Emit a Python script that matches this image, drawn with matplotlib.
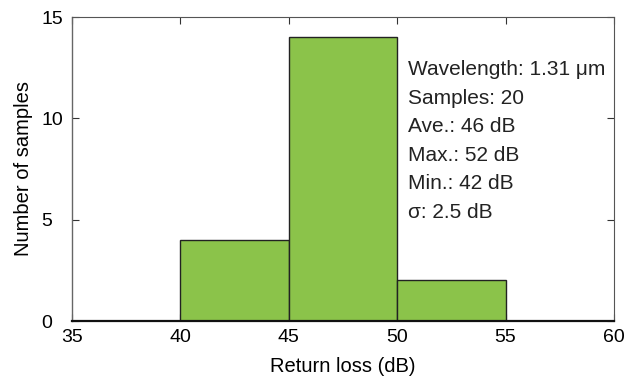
import matplotlib
matplotlib.use("Agg")
import matplotlib.pyplot as plt

# histogram of return loss measurements
bin_edges = [40, 45, 50, 55]
counts = [4, 14, 2]

info_lines = [
    "Wavelength: 1.31 \u03bcm",
    "Samples: 20",
    "Ave.: 46 dB",
    "Max.: 52 dB",
    "Min.: 42 dB",
    "\u03c3: 2.5 dB",
]

plt.rcParams['font.family'] = ['Liberation Sans', 'DejaVu Sans']
plt.rcParams['font.size'] = 14

fig = plt.figure(figsize=(6.26, 3.77), dpi=100)
ax = fig.add_axes([72 / 626, 1 - 321 / 377, 542 / 626, 304 / 377])

widths = [b - a for a, b in zip(bin_edges[:-1], bin_edges[1:])]
ax.bar(bin_edges[:-1], counts, width=widths, align='edge',
       color='#8bc34a', edgecolor='#222222', linewidth=1.0, zorder=2)

ax.set_xlim(35, 60)
ax.set_ylim(0, 15)
ax.set_xticks(range(35, 61, 5))
ax.set_yticks([0, 5, 10, 15])
ax.tick_params(direction='in', top=True, right=True, length=5,
               width=0.8, color='#333333', labelsize=14, pad=6)
ax.tick_params(axis='y', pad=22)
for lab in ax.get_yticklabels():
    lab.set_horizontalalignment('left')

for side in ['top', 'right']:
    ax.spines[side].set_color('#555555')
    ax.spines[side].set_linewidth(0.8)
ax.spines['left'].set_color('#666666')
ax.spines['left'].set_linewidth(1.0)
ax.spines['bottom'].set_color('#111111')
ax.spines['bottom'].set_linewidth(1.6)

ax.set_xlabel("Return loss (dB)", fontsize=14.5, labelpad=8)
ax.set_ylabel("Number of samples", fontsize=14.5, labelpad=6)

# stats block, one line each
y0 = 12.4
step = 1.41
for i, line in enumerate(info_lines):
    ax.text(50.5, y0 - i * step, line, fontsize=15, color='#222222',
            va='center', ha='left', zorder=3)

fig.savefig("out.png", dpi=100)
